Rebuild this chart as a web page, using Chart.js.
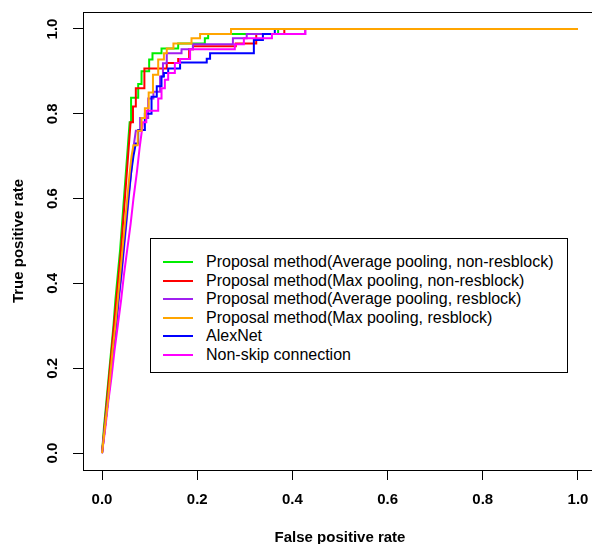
<!DOCTYPE html>
<html>
<head>
<meta charset="utf-8">
<script src="https://cdn.jsdelivr.net/npm/chart.js@4.4.0/dist/chart.umd.min.js"></script>
<style>
html, body { margin: 0; padding: 0; background: #fff; overflow: hidden; }
#wrap { position: relative; width: 600px; height: 544px; }
#legend {
    position: absolute; left: 150px; top: 238px; width: 418px; height: 135px;
    box-sizing: border-box; border: 1px solid #000; background: #fff;
    font-family: "Liberation Sans", Arial, sans-serif; font-size: 16px; color: #000;
    padding-top: 14px;
}
.row { position: relative; height: 18.6px; line-height: 18.6px; white-space: nowrap; }
.swatch { position: absolute; left: 12px; top: 8px; width: 30px; height: 2px; }
.txt { position: absolute; left: 55px; top: 0; }
</style>
</head>
<body>
<div id="wrap">
    <canvas id="rocChart" width="600" height="544"></canvas>
    <div id="legend"></div>
</div>
<script>
// ROC curves
var seriesNames = [
    'Proposal method(Average pooling, non-resblock)',
    'Proposal method(Max pooling, non-resblock)',
    'Proposal method(Average pooling, resblock)',
    'Proposal method(Max pooling, resblock)',
    'AlexNet',
    'Non-skip connection'
];
var seriesColors = ['#00ee00', '#ff0000', '#a020f0', '#ffa500', '#0000ff', '#ff00ff'];
var drawOrder = [5, 4, 3, 0, 2, 1];
// points before this index are joined straight, later ones as ROC steps
var stepStart = [13, 13, 13, 13, 13, 13];

var avgNonResFpr = [0, 0.004, 0.009, 0.014, 0.019, 0.024, 0.028, 0.033, 0.038, 0.042, 0.046, 0.050, 0.054, 0.058, 0.061, 0.076, 0.083, 0.099, 0.106, 0.125, 0.160, 0.216, 0.223, 0.370, 1.0];
var avgNonResTpr = [0, 0.06, 0.12, 0.18, 0.24, 0.30, 0.36, 0.42, 0.48, 0.54, 0.60, 0.66, 0.72, 0.78, 0.838, 0.870, 0.900, 0.928, 0.943, 0.954, 0.966, 0.978, 0.988, 1.0, 1.0];

var maxNonResFpr = [0, 0.005, 0.010, 0.015, 0.020, 0.025, 0.030, 0.035, 0.040, 0.044, 0.048, 0.052, 0.056, 0.060, 0.065, 0.071, 0.089, 0.136, 0.160, 0.183, 0.191, 0.281, 0.324, 0.383, 1.0];
var maxNonResTpr = [0, 0.06, 0.12, 0.18, 0.24, 0.30, 0.36, 0.42, 0.48, 0.54, 0.60, 0.66, 0.72, 0.78, 0.817, 0.860, 0.907, 0.920, 0.929, 0.952, 0.959, 0.966, 0.988, 1.0, 1.0];

var avgResFpr = [0, 0.006, 0.012, 0.018, 0.024, 0.030, 0.035, 0.041, 0.046, 0.051, 0.056, 0.061, 0.066, 0.071, 0.080, 0.097, 0.108, 0.122, 0.128, 0.136, 0.167, 0.191, 0.275, 0.304, 0.427, 1.0];
var avgResTpr = [0, 0.06, 0.12, 0.18, 0.24, 0.30, 0.36, 0.42, 0.48, 0.54, 0.60, 0.66, 0.72, 0.76, 0.79, 0.836, 0.852, 0.888, 0.919, 0.943, 0.952, 0.964, 0.978, 0.988, 1.0, 1.0];

var maxResFpr = [0, 0.006, 0.012, 0.017, 0.022, 0.028, 0.033, 0.038, 0.043, 0.048, 0.053, 0.058, 0.062, 0.066, 0.075, 0.083, 0.090, 0.098, 0.107, 0.118, 0.130, 0.136, 0.150, 0.188, 0.206, 0.271, 1.0];
var maxResTpr = [0, 0.06, 0.12, 0.18, 0.24, 0.30, 0.36, 0.42, 0.48, 0.54, 0.60, 0.66, 0.70, 0.726, 0.76, 0.79, 0.813, 0.85, 0.892, 0.928, 0.943, 0.954, 0.966, 0.978, 0.988, 1.0, 1.0];

var alexFpr = [0, 0.006, 0.012, 0.018, 0.023, 0.029, 0.034, 0.040, 0.045, 0.050, 0.055, 0.061, 0.066, 0.071, 0.076, 0.090, 0.104, 0.115, 0.125, 0.130, 0.139, 0.164, 0.220, 0.227, 0.319, 0.338, 0.363, 1.0];
var alexTpr = [0, 0.06, 0.12, 0.18, 0.24, 0.30, 0.36, 0.42, 0.48, 0.54, 0.60, 0.66, 0.70, 0.73, 0.762, 0.80, 0.84, 0.865, 0.888, 0.896, 0.907, 0.921, 0.930, 0.943, 0.974, 0.988, 1.0, 1.0];

var nonSkipFpr = [0, 0.007, 0.013, 0.020, 0.026, 0.033, 0.040, 0.046, 0.053, 0.060, 0.066, 0.073, 0.079, 0.086, 0.093, 0.118, 0.125, 0.132, 0.139, 0.153, 0.164, 0.185, 0.279, 0.298, 0.357, 0.427, 1.0];
var nonSkipTpr = [0, 0.06, 0.12, 0.18, 0.24, 0.30, 0.36, 0.42, 0.48, 0.54, 0.60, 0.66, 0.72, 0.78, 0.807, 0.836, 0.86, 0.88, 0.896, 0.920, 0.929, 0.952, 0.964, 0.978, 0.988, 1.0, 1.0];

var xTicks = [0, 0.2, 0.4, 0.6, 0.8, 1.0];
var yTicks = [0, 0.2, 0.4, 0.6, 0.8, 1.0];

var fprList = [avgNonResFpr, maxNonResFpr, avgResFpr, maxResFpr, alexFpr, nonSkipFpr];
var tprList = [avgNonResTpr, maxNonResTpr, avgResTpr, maxResTpr, alexTpr, nonSkipTpr];

// straight part first, then each point reached by going right, then up
function rocPath(xs, ys, from) {
    var pts = [];
    xs.forEach(function (x, i) {
        if (i > from) pts.push({ x: x, y: ys[i - 1] });
        pts.push({ x: x, y: ys[i] });
    });
    return pts;
}

var datasets = seriesNames.map(function (name, i) {
    return {
        label: name,
        data: rocPath(fprList[i], tprList[i], stepStart[i]),
        borderColor: seriesColors[i],
        backgroundColor: seriesColors[i],
        borderWidth: 2,
        pointRadius: 0,
        fill: false,
        order: drawOrder[i]
    };
});

// legend box inside the plot
var legendEl = document.getElementById('legend');
seriesNames.forEach(function (name, i) {
    var row = document.createElement('div');
    row.className = 'row';
    var sw = document.createElement('span');
    sw.className = 'swatch';
    sw.style.background = seriesColors[i];
    var tx = document.createElement('span');
    tx.className = 'txt';
    tx.textContent = name;
    row.appendChild(sw);
    row.appendChild(tx);
    legendEl.appendChild(row);
});

var boxPlugin = {
    id: 'box',
    afterDraw: function (chart) {
        var a = chart.chartArea, c = chart.ctx;
        c.save();
        c.strokeStyle = '#000';
        c.lineWidth = 1;
        c.strokeRect(Math.round(a.left) + 0.5, Math.round(a.top) + 0.5, a.right - a.left, a.bottom - a.top);
        c.restore();
    }
};

function noOverhang(s) {
    s.paddingTop = 0;
    s.paddingBottom = 0;
    s.paddingLeft = 0;
    s.paddingRight = 0;
}

var axisFont = { family: '"Liberation Sans", Arial, sans-serif', size: 15, weight: 'bold' };
var xTitleFont = { family: '"Liberation Sans", Arial, sans-serif', size: 15, weight: 'bold', lineHeight: 0.8 };

var ctx = document.getElementById('rocChart').getContext('2d');
var rocChart = new Chart(ctx, {
    type: 'line',
    data: { datasets: datasets },
    plugins: [boxPlugin],
    options: {
        responsive: false,
        animation: false,
        layout: { padding: { top: 12, right: 3, left: 0, bottom: 0 } },
        plugins: { legend: { display: false }, tooltip: { enabled: false } },
        scales: {
            x: {
                type: 'linear',
                position: 'bottom',
                min: -0.04,
                max: 1.04,
                afterBuildTicks: function (s) { s.ticks = xTicks.map(function (v) { return { value: v }; }); },
                afterFit: function (s) { s.height = 74; noOverhang(s); },
                ticks: {
                    color: '#000', font: axisFont, padding: 11, maxRotation: 0,
                    callback: function (v) { return v.toFixed(1); }
                },
                grid: { drawOnChartArea: false, tickLength: 10, color: '#000' },
                border: { color: '#000', width: 1 },
                title: { display: true, text: 'False positive rate', color: '#000', font: xTitleFont, padding: { top: 0, bottom: 0 } }
            },
            y: {
                type: 'linear',
                min: -0.04,
                max: 1.04,
                afterBuildTicks: function (s) { s.ticks = yTicks.map(function (v) { return { value: v }; }); },
                afterFit: function (s) { s.width = 83; noOverhang(s); },
                ticks: {
                    color: '#000', font: axisFont, padding: 10, minRotation: 90, maxRotation: 90, crossAlign: 'center',
                    callback: function (v) { return v.toFixed(1); }
                },
                grid: { drawOnChartArea: false, tickLength: 10, color: '#000' },
                border: { color: '#000', width: 1 },
                title: { display: true, text: 'True positive rate', color: '#000', font: axisFont, padding: { top: 10, bottom: 0 } }
            }
        }
    }
});
</script>
</body>
</html>
